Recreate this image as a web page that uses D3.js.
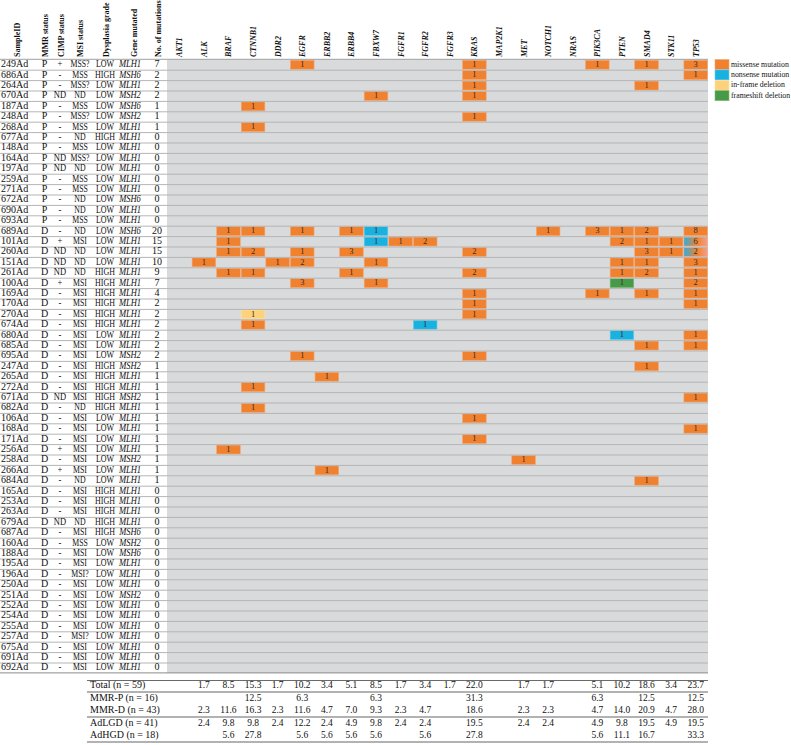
<!DOCTYPE html>
<html>
<head>
<meta charset="utf-8">
<script src="https://cdn.jsdelivr.net/npm/d3@7"></script>
<style>
  body { margin: 0; background: #fff; }
  text { font-family: "Liberation Serif", "Times New Roman", serif; fill: #111; }
</style>
</head>
<body>
<div id="chart"></div>
<script>
// rows (samples) and their clinical columns
var sampleIds = ['249Ad','686Ad','264Ad','670Ad','187Ad','248Ad','268Ad','677Ad','148Ad','164Ad','197Ad','259Ad','271Ad','672Ad','690Ad','693Ad',
  '689Ad','101Ad','260Ad','151Ad','261Ad','100Ad','169Ad','170Ad','270Ad','674Ad','680Ad','685Ad','695Ad','247Ad','265Ad','272Ad','671Ad','682Ad',
  '106Ad','168Ad','171Ad','256Ad','258Ad','266Ad','684Ad','165Ad','253Ad','263Ad','679Ad','687Ad','160Ad','188Ad','195Ad','196Ad','250Ad','251Ad',
  '252Ad','254Ad','255Ad','257Ad','675Ad','691Ad','692Ad'];
var mmrStatus = ['P','P','P','P','P','P','P','P','P','P','P','P','P','P','P','P',
  'D','D','D','D','D','D','D','D','D','D','D','D','D','D','D','D','D','D','D','D','D','D','D','D','D','D','D','D','D','D','D','D','D','D','D','D','D','D','D','D','D','D','D'];
var cimpStatus = ['+','-','-','ND','-','-','-','-','-','ND','ND','-','-','-','-','-',
  '-','+','ND','ND','ND','+','-','-','-','-','-','-','-','-','-','-','ND','-','-','-','-','+','-','+','-','-','-','-','ND','-','-','-','-','-','-','-','-','-','-','-','-','-','-'];
var msiStatus = ['MSS?','MSS','MSS?','ND','MSS','MSS?','MSS','ND','MSS','MSS?','ND','MSS','MSS','ND','ND','MSS',
  'ND','MSI','ND','ND','ND','MSI','MSI','MSI','MSI','MSI','MSI','MSI','MSI','MSI','MSI','MSI','MSI','ND','MSI','MSI','MSI','MSI','MSI','MSI','ND',
  'MSI','MSI','MSI','ND','MSI','MSS','MSI','MSI','MSI?','MSI','MSI','MSI','MSI','MSI','MSI?','MSI','MSI','MSI'];
var grade = ['LOW','HIGH','LOW','LOW','LOW','LOW','LOW','HIGH','LOW','LOW','LOW','LOW','LOW','LOW','LOW','LOW',
  'LOW','LOW','LOW','LOW','HIGH','HIGH','HIGH','HIGH','HIGH','HIGH','LOW','LOW','LOW','HIGH','HIGH','HIGH','HIGH','HIGH','LOW','LOW','LOW','LOW','LOW','LOW','LOW',
  'HIGH','HIGH','HIGH','HIGH','HIGH','LOW','LOW','LOW','LOW','LOW','LOW','LOW','LOW','LOW','LOW','LOW','LOW','LOW'];
var geneMutated = ['MLH1','MSH6','MLH1','MSH2','MSH6','MSH2','MLH1','MLH1','MLH1','MLH1','MLH1','MLH1','MLH1','MSH6','MLH1','MLH1',
  'MSH6','MLH1','MLH1','MLH1','MLH1','MLH1','MLH1','MLH1','MLH1','MLH1','MLH1','MLH1','MSH2','MSH2','MLH1','MLH1','MSH2','MLH1','MLH1','MLH1','MLH1','MLH1','MSH2','MLH1','MLH1',
  'MLH1','MLH1','MLH1','MLH1','MSH6','MSH2','MSH6','MLH1','MLH1','MLH1','MSH2','MLH1','MLH1','MLH1','MLH1','MLH1','MLH1','MLH1'];
var nMutations = [7,2,2,2,1,1,1,0,0,0,0,0,0,0,0,0,
  20,15,15,10,9,7,4,2,2,2,2,2,2,1,1,1,1,1,1,1,1,1,1,1,1,0,0,0,0,0,0,0,0,0,0,0,0,0,0,0,0,0,0];

// gene columns
var genes = ['AKT1','ALK','BRAF','CTNNB1','DDR2','EGFR','ERBB2','ERBB4','FBXW7','FGFR1','FGFR2','FGFR3',
  'KRAS','MAP2K1','MET','NOTCH1','NRAS','PIK3CA','PTEN','SMAD4','STK11','TP53'];

// mutations: [sample, gene, count, type]  m=missense n=nonsense i=in-frame f=frameshift x=mixed
var mutations = [
  ['249Ad','EGFR',1,'m'],['249Ad','KRAS',1,'m'],['249Ad','PIK3CA',1,'m'],['249Ad','SMAD4',1,'m'],['249Ad','TP53',3,'m'],
  ['686Ad','KRAS',1,'m'],['686Ad','TP53',1,'m'],
  ['264Ad','KRAS',1,'m'],['264Ad','SMAD4',1,'m'],
  ['670Ad','FBXW7',1,'m'],['670Ad','KRAS',1,'m'],
  ['187Ad','CTNNB1',1,'m'],
  ['248Ad','KRAS',1,'m'],
  ['268Ad','CTNNB1',1,'m'],
  ['689Ad','BRAF',1,'m'],['689Ad','CTNNB1',1,'m'],['689Ad','EGFR',1,'m'],['689Ad','ERBB4',1,'m'],['689Ad','FBXW7',1,'n'],
  ['689Ad','NOTCH1',1,'m'],['689Ad','PIK3CA',3,'m'],['689Ad','PTEN',1,'m'],['689Ad','SMAD4',2,'m'],['689Ad','TP53',8,'m'],
  ['101Ad','BRAF',1,'m'],['101Ad','FBXW7',1,'n'],['101Ad','FGFR1',1,'m'],['101Ad','FGFR2',2,'m'],['101Ad','PTEN',2,'m'],
  ['101Ad','SMAD4',1,'m'],['101Ad','STK11',1,'m'],['101Ad','TP53',6,'x'],
  ['260Ad','BRAF',1,'m'],['260Ad','CTNNB1',2,'m'],['260Ad','EGFR',1,'m'],['260Ad','ERBB4',3,'m'],['260Ad','KRAS',2,'m'],
  ['260Ad','SMAD4',3,'m'],['260Ad','STK11',1,'m'],['260Ad','TP53',2,'x'],
  ['151Ad','ALK',1,'m'],['151Ad','DDR2',1,'m'],['151Ad','EGFR',2,'m'],['151Ad','FBXW7',1,'m'],['151Ad','PTEN',1,'m'],
  ['151Ad','SMAD4',1,'m'],['151Ad','TP53',3,'m'],
  ['261Ad','BRAF',1,'m'],['261Ad','CTNNB1',1,'m'],['261Ad','ERBB4',1,'m'],['261Ad','KRAS',2,'m'],['261Ad','PTEN',1,'m'],
  ['261Ad','SMAD4',2,'m'],['261Ad','TP53',1,'m'],
  ['100Ad','EGFR',3,'m'],['100Ad','FBXW7',1,'m'],['100Ad','PTEN',1,'f'],['100Ad','TP53',2,'m'],
  ['169Ad','KRAS',1,'m'],['169Ad','PIK3CA',1,'m'],['169Ad','SMAD4',1,'m'],['169Ad','TP53',1,'m'],
  ['170Ad','KRAS',1,'m'],['170Ad','TP53',1,'m'],
  ['270Ad','CTNNB1',1,'i'],['270Ad','KRAS',1,'m'],
  ['674Ad','CTNNB1',1,'m'],['674Ad','FGFR2',1,'n'],
  ['680Ad','PTEN',1,'n'],['680Ad','TP53',1,'m'],
  ['685Ad','SMAD4',1,'m'],['685Ad','TP53',1,'m'],
  ['695Ad','EGFR',1,'m'],['695Ad','KRAS',1,'m'],
  ['247Ad','SMAD4',1,'m'],
  ['265Ad','ERBB2',1,'m'],
  ['272Ad','CTNNB1',1,'m'],
  ['671Ad','TP53',1,'m'],
  ['682Ad','CTNNB1',1,'m'],
  ['106Ad','KRAS',1,'m'],
  ['168Ad','TP53',1,'m'],
  ['171Ad','KRAS',1,'m'],
  ['256Ad','BRAF',1,'m'],
  ['258Ad','MET',1,'m'],
  ['266Ad','ERBB2',1,'m'],
  ['684Ad','SMAD4',1,'m']
];

// summary table (percent), one value per gene column, null = blank
var summaryLabels = ['Total (n = 59)','MMR-P (n = 16)','MMR-D (n = 43)','AdLGD (n = 41)','AdHGD (n = 18)'];
var totalPct = [null,'1.7','8.5','15.3','1.7','10.2','3.4','5.1','8.5','1.7','3.4','1.7','22.0',null,'1.7','1.7',null,'5.1','10.2','18.6','3.4','23.7'];
var mmrPPct  = [null,null,null,'12.5',null,'6.3',null,null,'6.3',null,null,null,'31.3',null,null,null,null,'6.3',null,'12.5',null,'12.5'];
var mmrDPct  = [null,'2.3','11.6','16.3','2.3','11.6','4.7','7.0','9.3','2.3','4.7',null,'18.6',null,'2.3','2.3',null,'4.7','14.0','20.9','4.7','28.0'];
var lgdPct   = [null,'2.4','9.8','9.8','2.4','12.2','2.4','4.9','9.8','2.4','2.4',null,'19.5',null,'2.4','2.4',null,'4.9','9.8','19.5','4.9','19.5'];
var hgdPct   = [null,null,'5.6','27.8',null,'5.6','5.6','5.6','5.6',null,'5.6',null,'27.8',null,null,null,null,'5.6','11.1','16.7',null,'33.3'];

var legendTypes = ['m','n','i','f'];
var legendLabels = ['missense mutation','nonsense mutation','in-frame deletion','frameshift deletion'];

var colors = {m: '#f0822f', n: '#19b2e0', i: '#fdd27a', f: '#479a47', x: 'url(#mixed)'};
var strokes = {m: '#f5a572', n: '#69cdea', i: '#fde2a8', f: '#7fb97f', x: '#f5a572'};

var width = 791, height = 745;
var svg = d3.select("#chart").append("svg")
  .attr("width", width)
  .attr("height", height);

var grad = svg.append("defs").append("linearGradient").attr("id", "mixed");
grad.append("stop").attr("offset", "0%").attr("stop-color", "#2eaee0");
grad.append("stop").attr("offset", "55%").attr("stop-color", "#f0822f");
grad.append("stop").attr("offset", "100%").attr("stop-color", "#f3a08a");

// scales
var x = d3.scaleBand().domain(genes).range([167, 708]);
var y = d3.scaleBand().domain(sampleIds).range([59.3, 672.9]);
var rh = y.bandwidth();

// gray grid background
svg.append("rect")
  .attr("x", x.range()[0]).attr("y", y.range()[0])
  .attr("width", x.range()[1] - x.range()[0])
  .attr("height", y.range()[1] - y.range()[0])
  .attr("fill", "#d9dadb");

// mutation cells
var cells = svg.selectAll(".cell")
  .data(mutations)
  .enter().append("g")
  .attr("class", "cell");
cells.append("rect")
  .attr("x", function(d) { return x(d[1]) + 0.5; })
  .attr("y", function(d) { return y(d[0]) + 1; })
  .attr("width", x.bandwidth() - 1)
  .attr("height", rh - 1.5)
  .attr("fill", function(d) { return colors[d[3]]; })
  .attr("stroke", function(d) { return strokes[d[3]]; })
  .attr("stroke-width", 0.6);
cells.append("text")
  .attr("x", function(d) { return x(d[1]) + x.bandwidth() / 2; })
  .attr("y", function(d) { return y(d[0]) + rh / 2 + 0.5; })
  .attr("text-anchor", "middle")
  .attr("dominant-baseline", "middle")
  .style("font-size", "8.5px")
  .style("fill", "#3a2a20")
  .text(function(d) { return d[2]; });

// row separator lines
svg.selectAll(".rowline")
  .data(sampleIds.slice(1))
  .enter().append("line")
  .attr("x1", 0).attr("x2", 708)
  .attr("y1", function(d) { return y(d) + 0.5; })
  .attr("y2", function(d) { return y(d) + 0.5; })
  .attr("stroke", "#b4b5b6")
  .attr("stroke-width", 1);
svg.append("line")
  .attr("x1", 0).attr("x2", 708)
  .attr("y1", y.range()[0]).attr("y2", y.range()[0])
  .attr("stroke", "#a0a0a0").attr("stroke-width", 1);
svg.append("line")
  .attr("x1", 0).attr("x2", 708)
  .attr("y1", y.range()[1]).attr("y2", y.range()[1])
  .attr("stroke", "#8a8a8a").attr("stroke-width", 1);

// left table columns (sx squeezes the wide capital words)
var leftCols = [
  {title: 'SampleID', vals: sampleIds, cx: 17, tx: 1, anchor: 'start', sx: 1},
  {title: 'MMR status', vals: mmrStatus, cx: 45, tx: 44.5, sx: 1},
  {title: 'CIMP status', vals: cimpStatus, cx: 61, tx: 60, sx: 0.85},
  {title: 'MSI status', vals: msiStatus, cx: 80, tx: 80, sx: 0.78},
  {title: 'Dysplasia grade', vals: grade, cx: 106, tx: 105, sx: 0.8},
  {title: 'Gene mutated', vals: geneMutated, cx: 134, tx: 130, italic: true, sx: 0.85},
  {title: 'No. of mutations', vals: nMutations, cx: 158, tx: 157, sx: 1}
];

leftCols.forEach(function(c) {
  svg.append("text")
    .attr("transform", "translate(" + (c.cx + 3) + ",57) rotate(-90)")
    .style("font-size", "8px")
    .style("font-weight", "bold")
    .text(c.title);
  svg.selectAll(null)
    .data(c.vals)
    .enter().append("text")
    .attr("transform", function(d, i) {
      return "translate(" + c.tx + "," + (y(sampleIds[i]) + rh / 2 + 0.5) + ") scale(" + c.sx + ",1)";
    })
    .attr("text-anchor", c.anchor || "middle")
    .attr("dominant-baseline", "middle")
    .style("font-size", "10px")
    .style("font-style", c.italic ? "italic" : "normal")
    .text(function(d) { return d; });
});

// gene headers
svg.selectAll(".genelabel")
  .data(genes)
  .enter().append("text")
  .attr("transform", function(d) { return "translate(" + (x(d) + x.bandwidth() / 2 + 3) + ",57) rotate(-90)"; })
  .style("font-size", "8px")
  .style("font-weight", "bold")
  .style("font-style", "italic")
  .text(function(d) { return d; });

// legend
var lg = svg.append("g");
legendTypes.forEach(function(t, i) {
  lg.append("rect")
    .attr("x", 715).attr("y", 59.5 + i * 10.4)
    .attr("width", 14).attr("height", 10)
    .attr("fill", colors[t])
    .attr("stroke", strokes[t]).attr("stroke-width", 0.6);
  lg.append("text")
    .attr("x", 731).attr("y", 64.8 + i * 10.4)
    .attr("dominant-baseline", "middle")
    .style("font-size", "7.8px")
    .text(legendLabels[i]);
});

// summary table
var summaryRows = [totalPct, mmrPPct, mmrDPct, lgdPct, hgdPct];
var sumY = [686, 698.5, 711, 723.5, 736];
var tableLeft = 87, tableRight = 708;

summaryRows.forEach(function(vals, r) {
  svg.append("text")
    .attr("x", 90).attr("y", sumY[r])
    .attr("dominant-baseline", "middle")
    .style("font-size", "10px")
    .text(summaryLabels[r]);
  vals.forEach(function(v, i) {
    if (v === null) return;
    svg.append("text")
      .attr("x", x(genes[i]) + x.bandwidth() / 2)
      .attr("y", sumY[r])
      .attr("text-anchor", "middle")
      .attr("dominant-baseline", "middle")
      .style("font-size", "9.5px")
      .text(v);
  });
});

[680.5, 692, 717, 742].forEach(function(ly, i) {
  svg.append("line")
    .attr("x1", tableLeft).attr("x2", tableRight)
    .attr("y1", ly).attr("y2", ly)
    .attr("stroke", i === 0 ? "#444" : "#666")
    .attr("stroke-width", i === 0 ? 0.8 : 1.2);
});
</script>
</body>
</html>
